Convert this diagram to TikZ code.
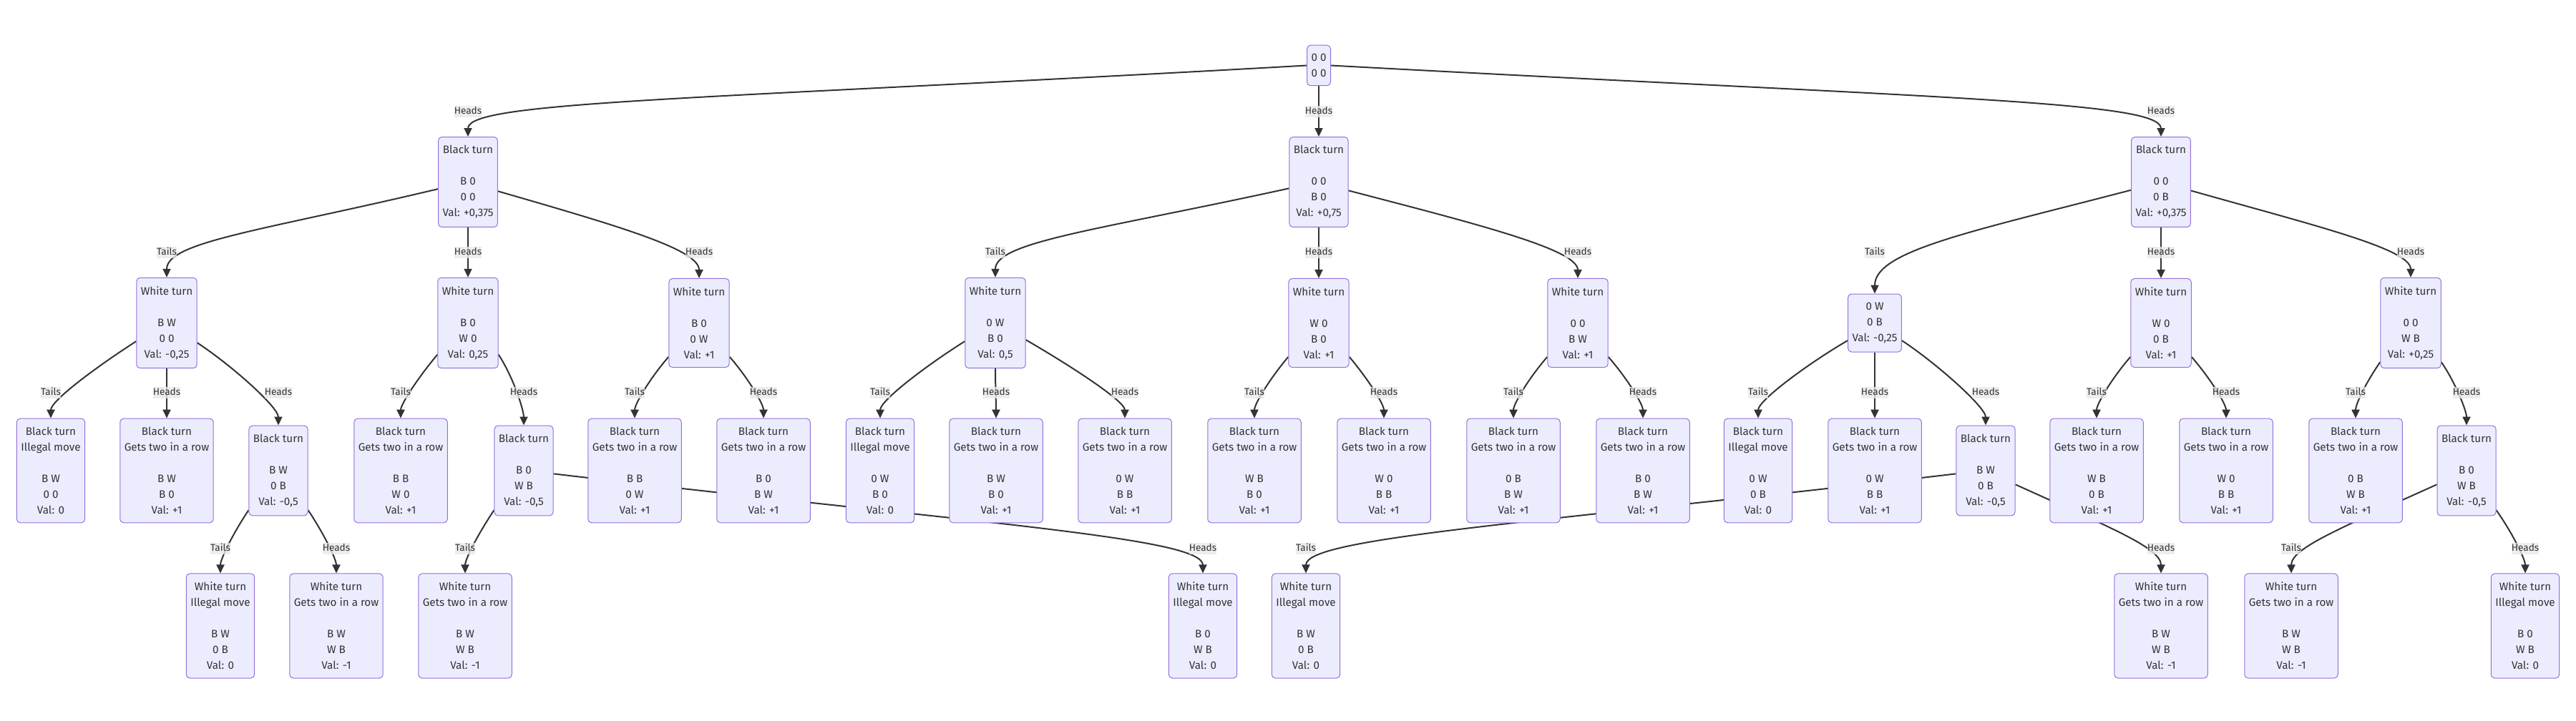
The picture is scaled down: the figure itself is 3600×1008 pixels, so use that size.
\documentclass[tikz,border=0pt]{standalone}
\usepackage{fontspec}
\setmainfont{Fira Sans}
\usepackage{tikz}
\usetikzlibrary{arrows.meta,backgrounds}
\definecolor{BoardPurple}{HTML}{9370DB}
\definecolor{BoardFill}{HTML}{ECECFF}
\definecolor{MoveInk}{HTML}{333333}
\definecolor{CoinGray}{HTML}{E8E8E8}

\tikzset{
  board/.style={draw=BoardPurple,fill=BoardFill,line width=1pt,rounded corners=5pt,
    align=center,inner xsep=6pt,inner ysep=12pt,text=MoveInk,
    font=\fontsize{15.2}{22}\selectfont},
  coin/.style={fill=CoinGray,fill opacity=0.8,text opacity=1,text=MoveInk,
    inner xsep=0pt,inner ysep=1.5pt,text height=10pt,text depth=3pt,
    font=\fontsize{13.6}{16}\selectfont},
  move/.style={draw=MoveInk,line width=2pt,-{Triangle[length=12pt,width=11pt]}},
}

\begin{document}
\begin{tikzpicture}[x=1pt,y=1pt]
  \useasboundingbox (0,0) rectangle (3600,-1008);
  \coordinate (r1) at (0,-156);
  \coordinate (r2) at (0,-353);
  \coordinate (r3) at (0,-549);
  \coordinate (r4) at (0,-767);

  % start
  \node[board] (root) at (1843,-91.5) {0 0\\0 0};

  % black to move
  \node[board] (A) at (654,-254.5) {Black turn\\[22pt]B 0\\0 0\\Val: +0,375};
  \node[board] (B) at (1843,-254.5) {Black turn\\[22pt]0 0\\B 0\\Val: +0,75};
  \node[board] (C) at (3020,-254.5) {Black turn\\[22pt]0 0\\0 B\\Val: +0,375};

  % white to move
  \node[board] (A1) at (233,-451.5) {White turn\\[22pt]B W\\0 0\\Val: -0,25};
  \node[board] (A2) at (654,-451.5) {White turn\\[22pt]B 0\\W 0\\Val: 0,25};
  \node[board] (A3) at (977,-451.5) {White turn\\[22pt]B 0\\0 W\\Val: +1};
  \node[board] (B1) at (1391,-451.5) {White turn\\[22pt]0 W\\B 0\\Val: 0,5};
  \node[board] (B2) at (1843,-451.5) {White turn\\[22pt]W 0\\B 0\\Val: +1};
  \node[board] (B3) at (2205,-451.5) {White turn\\[22pt]0 0\\B W\\Val: +1};
  \node[board] (C1) at (2620,-451.5) {0 W\\0 B\\Val: -0,25};
  \node[board] (C2) at (3020,-451.5) {White turn\\[22pt]W 0\\0 B\\Val: +1};
  \node[board] (C3) at (3369,-451.5) {White turn\\[22pt]0 0\\W B\\Val: +0,25};

  % black again
  \node[board] (A1a) at (71,-658) {Black turn\\Illegal move\\[22pt]B W\\0 0\\Val: 0};
  \node[board] (A1b) at (233,-658) {Black turn\\Gets two in a row\\[22pt]B W\\B 0\\Val: +1};
  \node[board] (A1c) at (389,-658) {Black turn\\[22pt]B W\\0 B\\Val: -0,5};
  \node[board] (A2a) at (560,-658) {Black turn\\Gets two in a row\\[22pt]B B\\W 0\\Val: +1};
  \node[board] (A2b) at (732,-658) {Black turn\\[22pt]B 0\\W B\\Val: -0,5};
  \node[board] (A3a) at (887,-658) {Black turn\\Gets two in a row\\[22pt]B B\\0 W\\Val: +1};
  \node[board] (A3b) at (1067,-658) {Black turn\\Gets two in a row\\[22pt]B 0\\B W\\Val: +1};
  \node[board] (B1a) at (1230,-658) {Black turn\\Illegal move\\[22pt]0 W\\B 0\\Val: 0};
  \node[board] (B1b) at (1392,-658) {Black turn\\Gets two in a row\\[22pt]B W\\B 0\\Val: +1};
  \node[board] (B1c) at (1572,-658) {Black turn\\Gets two in a row\\[22pt]0 W\\B B\\Val: +1};
  \node[board] (B2a) at (1753,-658) {Black turn\\Gets two in a row\\[22pt]W B\\B 0\\Val: +1};
  \node[board] (B2b) at (1934,-658) {Black turn\\Gets two in a row\\[22pt]W 0\\B B\\Val: +1};
  \node[board] (B3a) at (2115,-658) {Black turn\\Gets two in a row\\[22pt]0 B\\B W\\Val: +1};
  \node[board] (B3b) at (2296,-658) {Black turn\\Gets two in a row\\[22pt]B 0\\B W\\Val: +1};
  \node[board] (C1a) at (2457,-658) {Black turn\\Illegal move\\[22pt]0 W\\0 B\\Val: 0};
  \node[board] (C1b) at (2620,-658) {Black turn\\Gets two in a row\\[22pt]0 W\\B B\\Val: +1};
  \node[board] (C1c) at (2775,-658) {Black turn\\[22pt]B W\\0 B\\Val: -0,5};
  \node[board] (C2a) at (2930,-658) {Black turn\\Gets two in a row\\[22pt]W B\\0 B\\Val: +1};
  \node[board] (C2b) at (3111,-658) {Black turn\\Gets two in a row\\[22pt]W 0\\B B\\Val: +1};
  \node[board] (C3a) at (3292,-658) {Black turn\\Gets two in a row\\[22pt]0 B\\W B\\Val: +1};
  \node[board] (C3b) at (3447,-658) {Black turn\\[22pt]B 0\\W B\\Val: -0,5};

  % white again
  \node[board] (L1) at (308,-875) {White turn\\Illegal move\\[22pt]B W\\0 B\\Val: 0};
  \node[board] (L2) at (470,-875) {White turn\\Gets two in a row\\[22pt]B W\\W B\\Val: -1};
  \node[board] (L3) at (650,-875) {White turn\\Gets two in a row\\[22pt]B W\\W B\\Val: -1};
  \node[board] (L4) at (1681,-875) {White turn\\Illegal move\\[22pt]B 0\\W B\\Val: 0};
  \node[board] (L5) at (1825,-875) {White turn\\Illegal move\\[22pt]B W\\0 B\\Val: 0};
  \node[board] (L6) at (3020,-875) {White turn\\Gets two in a row\\[22pt]B W\\W B\\Val: -1};
  \node[board] (L7) at (3202,-875) {White turn\\Gets two in a row\\[22pt]B W\\W B\\Val: -1};
  \node[board] (L8) at (3529,-875) {White turn\\Illegal move\\[22pt]B 0\\W B\\Val: 0};

  % parent/start angle/child/out vector/in length/coin/label row
  \foreach \p/\a/\c/\ox/\oy/\il/\t/\r in {
    root/180/A/-848/-48/50/Heads/r1, root/270/B/0/-20/20/Heads/r1,
    root/0/C/848/-46/50/Heads/r1,
    A/193/A1/-243/-58/50/Tails/r2, A/270/A2/0/-20/20/Heads/r2,
    A/343/A3/173/-50/40/Heads/r2,
    B/192/B1/-264/-58/50/Tails/r2, B/270/B2/0/-20/20/Heads/r2,
    B/344/B3/184/-48/40/Heads/r2,
    C/195/C1/-222/-58/60/Tails/r2, C/270/C2/0/-20/20/Heads/r2,
    C/344/C3/173/-49/40/Heads/r2,
    A1/211/A1a/-50/-32/25/Tails/r3, A1/270/A1b/0/-20/20/Heads/r3,
    A1/327/A1c/50/-33/25/Heads/r3,
    A2/226/A2a/-26/-31/20/Tails/r3, A2/314/A2b/22/-34/20/Heads/r3,
    A3/228/A3a/-26/-30/20/Tails/r3, A3/312/A3b/26/-30/20/Heads/r3,
    B1/211/B1a/-51/-32/25/Tails/r3, B1/270/B1b/0/-20/20/Heads/r3,
    B1/331/B1c/52/-30/25/Heads/r3,
    B2/228/B2a/-26/-31/20/Tails/r3, B2/312/B2b/26/-31/20/Heads/r3,
    B3/228/B3a/-26/-30/20/Tails/r3, B3/312/B3b/26/-30/20/Heads/r3,
    C1/213/C1a/-52/-30/25/Tails/r3, C1/270/C1b/0/-20/20/Heads/r3,
    C1/327/C1c/50/-33/25/Heads/r3,
    C2/228/C2a/-26/-30/20/Tails/r3, C2/312/C2b/26/-30/20/Heads/r3,
    C3/232/C3a/-20/-29/20/Tails/r3, C3/308/C3b/20/-29/20/Heads/r3,
    A1c/233/L1/-22/-33/20/Tails/r4, A1c/307/L2/22/-33/20/Heads/r4,
    A2b/233/L3/-22/-33/20/Tails/r4, A2b/354/L4/596/-70/50/Heads/r4,
    C1c/186/L5/-596/-70/50/Tails/r4, C1c/335/L6/137/-62/35/Heads/r4,
    C3b/205/L7/-137/-62/35/Tails/r4, C3b/307/L8/23/-33/20/Heads/r4}{
    \begin{scope}[on background layer]
      \draw[move] (\p.\a) .. controls +(\ox,\oy) and +(0,\il) .. (\c.north);
    \end{scope}
    \node[coin] at (\c |- \r) {\t};
  }
\end{tikzpicture}
\end{document}
